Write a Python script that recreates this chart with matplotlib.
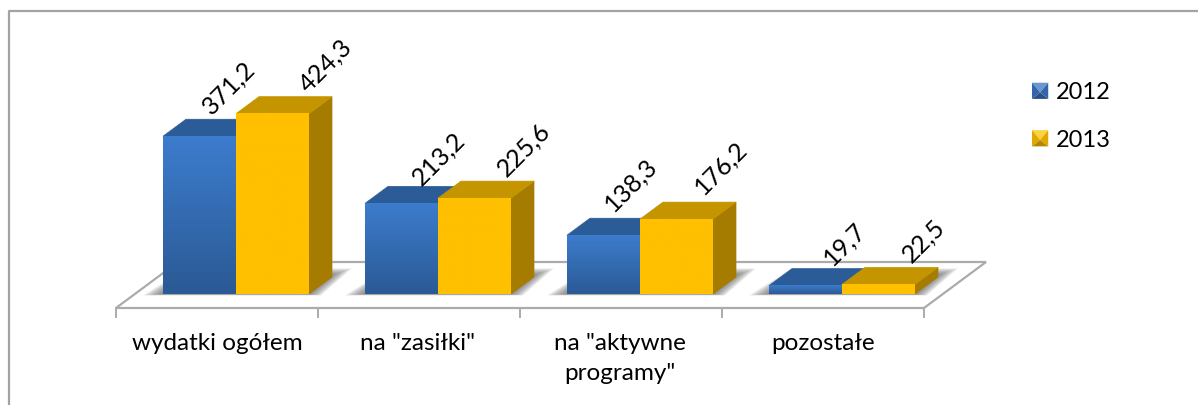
import numpy as np
import matplotlib
matplotlib.use("Agg")
import matplotlib.pyplot as plt
from matplotlib.patches import Polygon, Patch
from matplotlib.legend_handler import HandlerBase

plt.rcParams['font.family'] = ['Lato', 'DejaVu Sans']

categories = ['wydatki ogółem', 'na "zasiłki"', 'na "aktywne\nprogramy"', 'pozostałe']
series_names = ['2012', '2013']
values_2012 = [371.2, 213.2, 138.3, 19.7]
values_2013 = [424.3, 225.6, 176.2, 22.5]
value_labels_2012 = ['371,2', '213,2', '138,3', '19,7']
value_labels_2013 = ['424,3', '225,6', '176,2', '22,5']

W, H = 1198, 405
PX_X = 202.0      # pixels per category
PX_Y = 0.425      # pixels per value unit
X0, Y0 = 236, 294 # pixel of first group centre / zero line
BAR_W = 73 / PX_X
DX, DY = 23 / PX_X, 17 / PX_Y


def px(x, y):
    """Pixel position (from top-left) to data coordinates."""
    return (x - X0) / PX_X, (Y0 - y) / PX_Y


fig = plt.figure(figsize=(W / 100, H / 100), dpi=100)
ax = fig.add_axes([0, 0, 1, 1])
ax.axis('off')
xlim = (px(0, 0)[0], px(W, 0)[0])
ylim = (px(0, H)[1], px(0, 0)[1])

# outer frame: left and top only
GREY = '#A3A3A3'
ax.plot(*zip(px(8.5, H), px(8.5, 10.5), px(W, 10.5)), color=GREY, lw=1.6, zorder=1)

# floor
floor = [px(116, 308), px(178, 262), px(986, 262), px(924, 308)]
ax.add_patch(Polygon(floor, closed=True, fc='white', ec='#ABABAB', lw=1.6, zorder=2))
for tick_px in [116, 318, 520, 722, 924]:
    ax.plot(*zip(px(tick_px, 308), px(tick_px, 317)), color='#ABABAB', lw=1.4, zorder=2)


def shadow(i):
    xl = i - BAR_W
    xr = i + BAR_W + DX
    for k in range(10):
        g = (10 - k) / 10
        gx, gy = g * 20 / PX_X, g * 7 / PX_Y
        pts = [(xl - gx, 0 - gy * 0.2), (xl + DX, DY * 1.1 + gy),
               (xr + gx, DY * 1.1 + gy), (xr - DX + gx * 0.6, 0 - gy * 0.2)]
        ax.add_patch(Polygon(pts, closed=True, fc='#606060', ec='none', alpha=0.1, zorder=3))


def gradient_bar(left, value, top_col, bottom_col, z):
    c = np.array([matplotlib.colors.to_rgb(top_col), matplotlib.colors.to_rgb(bottom_col)])
    t = np.linspace(0, 1, 64)[:, None]
    img = (c[0] * (1 - t) + c[1] * t)[:, None, :]
    ax.imshow(img, extent=(left, left + BAR_W, 0, value), aspect='auto', zorder=z,
              interpolation='bilinear')


def bar3d(left, value, front_top, front_bottom, top, side, z):
    ax.add_patch(Polygon([(left + BAR_W, 0), (left + BAR_W + DX, DY),
                          (left + BAR_W + DX, value + DY), (left + BAR_W, value)],
                         closed=True, fc=side, ec=side, lw=0.5, zorder=z))
    ax.add_patch(Polygon([(left, value), (left + DX, value + DY),
                          (left + BAR_W + DX, value + DY), (left + BAR_W, value)],
                         closed=True, fc=top, ec=top, lw=0.5, joinstyle='round', zorder=z))
    gradient_bar(left, value, front_top, front_bottom, z + 0.1)


STYLE_2012 = dict(front_top='#3C7CCD', front_bottom='#2B5A95', top='#2C5C97', side='#24497A')
STYLE_2013 = dict(front_top='#FFC000', front_bottom='#FFC000', top='#C59500', side='#A67C00')

offs_2012 = [(29, -49), (37, -45), (27, -50), (39, -42)]
offs_2013 = [(53, -48), (49, -48), (44, -51), (45, -44)]
pts_per_px = 0.72
VALUE_FS = 18

for i in range(len(categories)):
    shadow(i)
    z = 4 + i
    bar3d(i - BAR_W, values_2012[i], z=z, **STYLE_2012)
    bar3d(i, values_2013[i], z=z + 0.3, **STYLE_2013)
    ax.annotate(value_labels_2012[i], (i - BAR_W / 2, values_2012[i]),
                xytext=(offs_2012[i][0] * pts_per_px, -offs_2012[i][1] * pts_per_px),
                textcoords='offset points', rotation=45, ha='center', va='center',
                fontsize=VALUE_FS, color='black', zorder=20, rotation_mode='anchor')
    ax.annotate(value_labels_2013[i], (i + BAR_W / 2, values_2013[i]),
                xytext=(offs_2013[i][0] * pts_per_px, -offs_2013[i][1] * pts_per_px),
                textcoords='offset points', rotation=45, ha='center', va='center',
                fontsize=VALUE_FS, color='black', zorder=20, rotation_mode='anchor')

# category labels
cat_centres = [217, 417, 620, 823]
for name, cx in zip(categories, cat_centres):
    x, y = px(cx, 333)
    ax.text(x, y, name, ha='center', va='top', fontsize=17.5, color='black',
            linespacing=1.53, zorder=20)


class BevelHandler(HandlerBase):
    def create_artists(self, legend, orig, xd, yd, width, height, fontsize, trans):
        base = np.array(matplotlib.colors.to_rgb(orig.get_facecolor()))
        size = height
        x0, y0 = -xd + (width - size) / 2, -yd
        xe, ye = x0 + size, y0 + size
        cx, cy = x0 + size / 2, y0 + size * 0.4
        faces = [
            ([(x0, ye), (xe, ye), (cx, cy)], base * 0.75 + 0.25),
            ([(x0, y0), (xe, y0), (cx, cy)], base * 0.7),
            ([(x0, y0), (x0, ye), (cx, cy)], base * 0.88),
            ([(xe, y0), (xe, ye), (cx, cy)], base * 0.88),
        ]
        return [Polygon(p, closed=True, fc=np.clip(c, 0, 1), ec='none', transform=trans)
                for p, c in faces]


handles = [Patch(facecolor='#3A74BE', label=series_names[0]),
           Patch(facecolor='#FFC000', label=series_names[1])]
leg = ax.legend(handles=handles, loc='upper left', bbox_to_anchor=(1025 / W, 1 - 75 / H),
                frameon=False, fontsize=17, handlelength=0.68, handleheight=0.68,
                handletextpad=0.34, labelspacing=1.12, borderpad=0.3, borderaxespad=0,
                handler_map={Patch: BevelHandler()})
leg.set_zorder(30)

ax.set_xlim(*xlim)
ax.set_ylim(*ylim)
fig.savefig('out.png', dpi=100)
